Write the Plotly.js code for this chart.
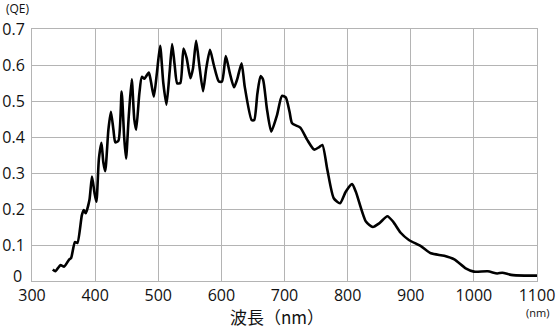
<!DOCTYPE html>
<html>
<head>
<meta charset="utf-8">
<script src="https://cdn.plot.ly/plotly-3.0.1.min.js"></script>
<style>html,body{margin:0;padding:0;background:#fff;}#chart{width:560px;height:330px;}</style>
</head>
<body>
<div id="chart"></div>
<script>
const wavelength = [333,337,345,351,359,362,368,372,379,382,385,391,395,399,402,406,410,413,416,421,425,429,432,437,442,446,449,453,458,462,465,470,474,478,485,488,493,498,503,508,513,518,522,526,530,535,540,545,551,555,560,565,571,576,582,588,596,601,607,613,620,625,632,637,648,652,657,662,666,672,679,688,696,702,708,712,725,736,747,755,760,768,778,788,797,807,813,829,840,850,863,872,884,897,916,932,953,969,987,1000,1022,1037,1045,1059,1080,1100];
const qe = [0.032,0.027,0.044,0.040,0.060,0.064,0.108,0.106,0.183,0.197,0.188,0.225,0.290,0.245,0.220,0.340,0.384,0.330,0.305,0.420,0.470,0.420,0.385,0.390,0.526,0.400,0.340,0.450,0.560,0.450,0.420,0.520,0.567,0.562,0.579,0.558,0.512,0.580,0.653,0.550,0.490,0.580,0.658,0.600,0.549,0.550,0.646,0.619,0.563,0.590,0.667,0.600,0.527,0.590,0.642,0.600,0.554,0.554,0.625,0.580,0.538,0.560,0.605,0.540,0.447,0.447,0.520,0.569,0.560,0.480,0.415,0.460,0.514,0.510,0.470,0.438,0.426,0.392,0.365,0.372,0.378,0.308,0.230,0.216,0.248,0.269,0.248,0.165,0.150,0.160,0.180,0.165,0.134,0.114,0.097,0.077,0.070,0.060,0.035,0.026,0.027,0.021,0.023,0.017,0.015,0.015];
const xTicks = [300,400,500,600,700,800,900,1000,1100];
const yTicks = [0,0.1,0.2,0.3,0.4,0.5,0.6,0.7];
const yTickText = ['','0.1','0.2','0.3','0.4','0.5','0.6','0.7'];
const yZeroLabel = '0';

const trace = {
  x: wavelength, y: qe, type: 'scatter', mode: 'lines',
  line: {color: '#000', width: 2.6, shape: 'spline', smoothing: 0.6},
  hoverinfo: 'skip'
};
const grid = '#b4b4b4';
const layout = {
  width: 560, height: 330,
  margin: {l: 32, r: 23, t: 29, b: 49},
  paper_bgcolor: '#fff', plot_bgcolor: '#fff',
  showlegend: false,
  font: {family: '"Open Sans", "Noto Sans CJK JP", sans-serif', color: '#111', size: 16},
  xaxis: {
    range: [300, 1100], tickvals: xTicks, ticktext: xTicks.map(String),
    showgrid: true, gridcolor: grid, gridwidth: 1,
    showline: true, linecolor: grid, linewidth: 1, mirror: true,
    zeroline: false, ticks: '', ticklabelstandoff: 0,
    tickfont: {size: 16, family: '"Open Sans", sans-serif', color: '#111'}
  },
  yaxis: {
    range: [0, 0.7], tickvals: yTicks, ticktext: yTickText,
    showgrid: true, gridcolor: grid, gridwidth: 1,
    showline: true, linecolor: grid, linewidth: 1, mirror: true,
    zeroline: false, ticks: '', ticklabelstandoff: 3,
    tickfont: {size: 16, family: '"Open Sans", sans-serif', color: '#111'}
  },
  annotations: [
    {text: yZeroLabel, xref: 'paper', yref: 'y', x: -0.028, y: 0, yshift: 5,
     xanchor: 'center', yanchor: 'middle', showarrow: false,
     font: {size: 16, family: '"Open Sans", sans-serif', color: '#111'}},
    {text: '波長（nm）', xref: 'paper', yref: 'paper', x: 0.485, y: -0.14,
     xanchor: 'center', yanchor: 'middle', showarrow: false,
     font: {size: 17, family: '"Noto Sans CJK JP", sans-serif', color: '#111'}},
    {text: '(QE)', xref: 'paper', yref: 'paper', x: -0.055, y: 1.082,
     xanchor: 'left', yanchor: 'middle', showarrow: false,
     font: {size: 12, family: '"Open Sans", sans-serif', color: '#111'}},
    {text: '(nm)', xref: 'paper', yref: 'paper', x: 1.0, y: -0.125,
     xanchor: 'center', yanchor: 'middle', showarrow: false,
     font: {size: 11, family: '"Open Sans", sans-serif', color: '#111'}}
  ]
};
Plotly.newPlot('chart', [trace], layout, {staticPlot: true, displayModeBar: false});
</script>
</body>
</html>
